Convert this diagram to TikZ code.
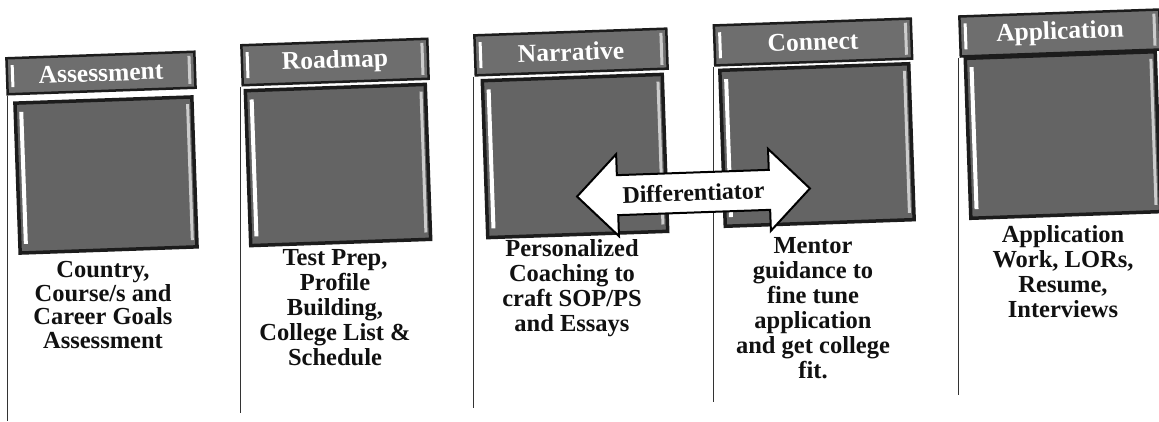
\documentclass[tikz,border=0pt]{standalone}
\usepackage{fontspec}
\setmainfont{Liberation Serif}
\definecolor{edge}{HTML}{1C1C1C}
\definecolor{tabfill}{HTML}{6E6E6E}
\definecolor{sqfill}{HTML}{646464}
\definecolor{ink}{HTML}{111111}
\definecolor{linegray}{HTML}{333333}
\tikzset{
  tabnode/.style={draw=edge, line width=2.5pt, fill=tabfill, text=white,
    font=\bfseries\fontsize{25.5}{27}\selectfont, inner sep=0pt, transform shape},
  sqnode/.style={draw=edge, line width=3.5pt, fill=sqfill, inner sep=0pt, transform shape},
  desc/.style={align=center, font=\bfseries\fontsize{24.5}{25}\selectfont, text=ink, inner sep=0pt},
  colline/.style={draw=linegray, line width=1pt},
  hiliteL/.style={fill=white},
  hiliteR/.style={fill=gray!40},
  diffarrow/.style={draw=black, line width=2pt, fill=white, line join=miter},
  difftext/.style={font=\bfseries\fontsize{24}{26}\selectfont, text=ink, inner sep=0pt}
}
\newcommand\mytab[6]{%
  \begin{scope}[shift={(#2,#3)},rotate=2]
    \node[tabnode,minimum width=#4pt,minimum height=#5pt] (#1) at (0,0) {#6};
    \fill[hiliteL] ({-#4/2+4},{-#5/2+7}) rectangle ({-#4/2+7},{#5/2-7});
    \fill[hiliteR] ({#4/2-7},{-#5/2+4}) rectangle ({#4/2-4},{#5/2-4});
  \end{scope}}
\newcommand\mysq[5]{%
  \begin{scope}[shift={(#2,#3)},rotate=2]
    \node[sqnode,minimum width=#4pt,minimum height=#5pt] (#1) at (0,0) {};
    \fill[hiliteL] ({-#4/2+4},{-#5/2+9}) rectangle ({-#4/2+8},{#5/2-9});
    \fill[hiliteR] ({#4/2-6},{-#5/2+7}) rectangle ({#4/2-3},{#5/2-7});
  \end{scope}}
\begin{document}
\begin{tikzpicture}[x=1pt,y=-1pt]
\useasboundingbox[fill=white] (0,0) rectangle (1159,421);

% column 1
\mytab{t1}{101}{73}{188}{36}{Assessment}
\mysq{s1}{106}{175}{177}{150}
\coordinate (b1) at (7,421);
\draw[colline] (t1.south west -| b1) -- (b1);
\node[desc, font=\bfseries\fontsize{24.5}{23.5}\selectfont] (d1) at (103,305) {Country,\\Course/s and\\Career Goals\\Assessment};

% column 2
\mytab{t2}{335}{62}{186}{40}{Roadmap}
\mysq{s2}{338}{165}{180}{155}
\coordinate (b2) at (240,413);
\draw[colline] (t2.south west -| b2) -- (b2);
\node[desc] (d2) at (335,308) {Test Prep,\\Profile\\Building,\\College List \&\\Schedule};

% column 3
\mytab{t3}{571}{52}{192}{40}{Narrative}
\mysq{s3}{575}{156}{180}{157}
\coordinate (b3) at (473,408);
\draw[colline] (t3.south west -| b3) -- (b3);
\node[desc] (d3) at (572,288) {Personalized\\Coaching to\\craft SOP/PS\\and Essays};

% column 4
\mytab{t4}{813}{42}{197}{40}{Connect}
\mysq{s4}{817}{145}{189}{156}
\coordinate (b4) at (713,402);
\draw[colline] (t4.south west -| b4) -- (b4);
\node[desc] (d4) at (813,308) {Mentor\\guidance to\\fine tune\\application\\and get college\\fit.};

% column 5
\mytab{t5}{1060}{33}{200}{40}{Application}
\mysq{s5}{1063}{135}{190}{160}
\coordinate (b5) at (958,395);
\draw[colline] (t5.south west -| b5) -- (b5);
\node[desc] (d5) at (1063,272) {Application\\Work, LORs,\\Resume,\\Interviews};

% differentiator double arrow
\begin{scope}[shift={(693.5,192.5)},rotate=2]
  \draw[diffarrow] (-116.5,0) -- (-76,-41) -- (-76,-20) -- (76,-20) -- (76,-41)
    -- (116.5,0) -- (76,41) -- (76,20) -- (-76,20) -- (-76,41) -- cycle;
  \node[difftext, transform shape] (diff) at (0,0) {Differentiator};
\end{scope}
\end{tikzpicture}
\end{document}
